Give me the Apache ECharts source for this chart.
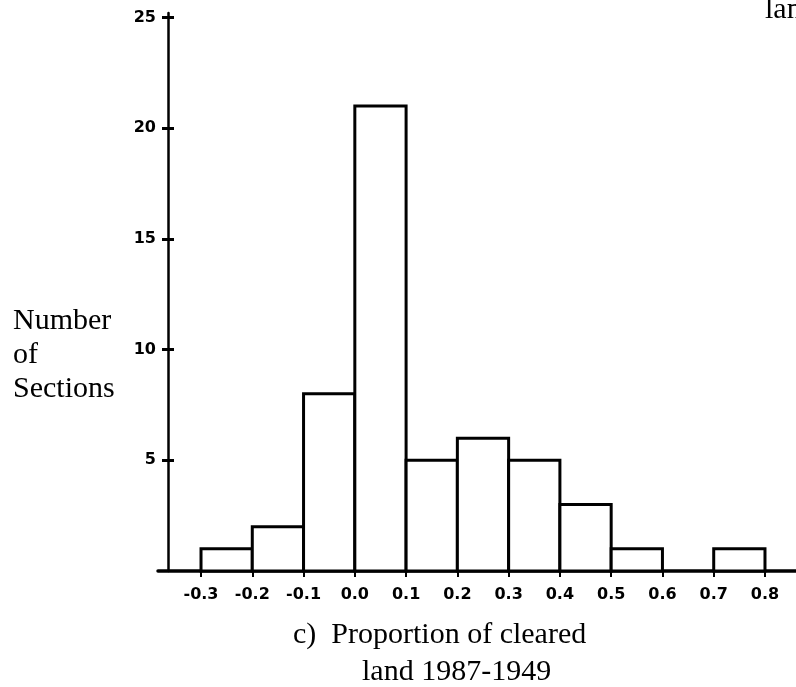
<!DOCTYPE html>
<html>
<head>
<meta charset="utf-8">
<script src="https://cdn.jsdelivr.net/npm/echarts@6/dist/echarts.min.js"></script>
<style>
html,body{margin:0;padding:0;background:#fff;}
#chart{width:796px;height:687px;}
</style>
</head>
<body>
<div id="chart"></div>
<script>
// Histogram data
var binStarts = [-0.3, -0.2, -0.1, 0.0, 0.1, 0.2, 0.3, 0.4, 0.5, 0.6, 0.7];
var binWidth = 0.1;
var counts = [1, 2, 8, 21, 5, 6, 5, 3, 1, 0, 1];
var xTickValues = [-0.3, -0.2, -0.1, 0.0, 0.1, 0.2, 0.3, 0.4, 0.5, 0.6, 0.7, 0.8];
var yTickValues = [5, 10, 15, 20, 25];
var yLabelLines = ['Number', 'of', 'Sections'];
var titleLines = ['c)  Proportion of cleared', 'land 1987-1949'];
var cornerText = 'lan';

var chart = echarts.init(document.getElementById('chart'), null, {renderer: 'canvas'});

var barData = binStarts.map(function (s, i) { return [s, s + binWidth, counts[i]]; }).filter(function (d) { return d[2] > 0; });

var tickFont = {fontFamily: 'DejaVu Sans', fontWeight: 'bold', fontSize: 16, color: '#000'};
var serif = 'Liberation Serif';

var option = {
  backgroundColor: '#fff',
  animation: false,
  grid: {left: 158, right: 0, top: 13, bottom: 116, containLabel: false},
  xAxis: {
    type: 'value',
    min: -0.3839,
    max: 0.8605,
    axisLine: {show: true, onZero: false, lineStyle: {color: '#000', width: 3.5}},
    axisTick: {show: true, customValues: xTickValues, length: 6, lineStyle: {color: '#000', width: 2}},
    axisLabel: Object.assign({customValues: xTickValues, margin: 16, formatter: function (v) { return v.toFixed(1); }}, tickFont),
    splitLine: {show: false}
  },
  yAxis: [{
    type: 'value',
    min: 0,
    max: 25.2,
    offset: -10,
    position: 'left',
    axisLine: {show: true, onZero: false, lineStyle: {color: '#000', width: 2.5}},
    axisTick: {show: true, customValues: yTickValues, length: 6, lineStyle: {color: '#000', width: 3}},
    axisLabel: Object.assign({customValues: yTickValues, margin: 12}, tickFont),
    splitLine: {show: false}
  }, {
    type: 'value',
    min: 0,
    max: 25.2,
    offset: -10,
    position: 'left',
    axisLine: {show: false, onZero: false},
    axisTick: {show: true, inside: true, customValues: yTickValues, length: 6, lineStyle: {color: '#000', width: 3}},
    axisLabel: {show: false},
    splitLine: {show: false}
  }],
  series: [{
    type: 'custom',
    data: barData,
    encode: {x: [0, 1], y: 2},
    renderItem: function (params, api) {
      var p0 = api.coord([api.value(0), api.value(2)]);
      var p1 = api.coord([api.value(1), 0]);
      return {
        type: 'rect',
        shape: {x: p0[0], y: p0[1], width: p1[0] - p0[0], height: p1[1] - p0[1]},
        style: {fill: '#fff', stroke: '#000', lineWidth: 3}
      };
    },
    z: 1
  }],
  graphic: [
    {type: 'text', left: 13, top: 306, style: {text: yLabelLines[0], font: '30px "' + serif + '"', fill: '#000'}},
    {type: 'text', left: 13, top: 340, style: {text: yLabelLines[1], font: '30px "' + serif + '"', fill: '#000'}},
    {type: 'text', left: 13, top: 374, style: {text: yLabelLines[2], font: '30px "' + serif + '"', fill: '#000'}},
    {type: 'text', left: 293, top: 620, style: {text: titleLines[0], font: '30px "' + serif + '"', fill: '#000'}},
    {type: 'text', left: 362, top: 657, style: {text: titleLines[1], font: '30px "' + serif + '"', fill: '#000'}},
    {type: 'text', left: 765, top: -5, style: {text: cornerText, font: '30px "' + serif + '"', fill: '#000'}}
  ]
};
chart.setOption(option);
</script>
</body>
</html>
